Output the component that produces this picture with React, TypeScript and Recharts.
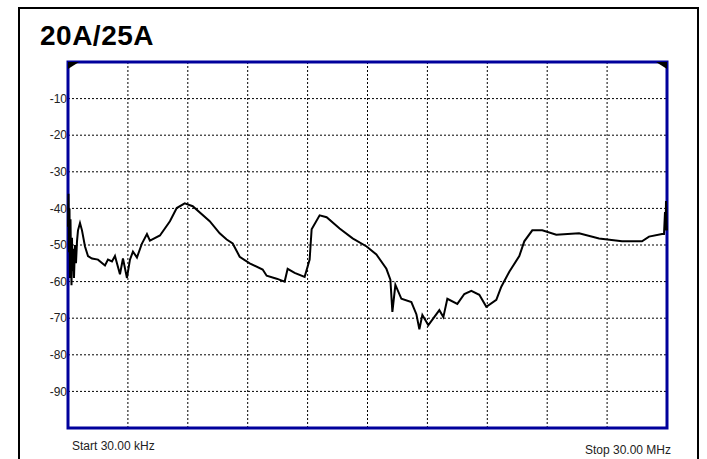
import { LineChart, Line, XAxis, YAxis, CartesianGrid, ReferenceArea, ReferenceDot } from 'recharts';

// frequency in MHz (linear span 30 kHz .. 30 MHz)
const freqMHz = [
  0.03, 0.055, 0.08, 0.105, 0.13, 0.155, 0.18, 0.205, 0.23, 0.255, 0.28, 0.33, 0.38, 0.43, 0.48, 0.53,
  0.63, 0.73, 0.88, 1.03, 1.23, 1.53, 1.88, 2.03, 2.23, 2.38, 2.63, 2.78, 2.98, 3.13, 3.28, 3.48,
  3.73, 3.98, 4.13, 4.63, 5.13, 5.47, 5.87, 6.27, 7.12, 7.62, 7.97, 8.27, 8.62, 9.12, 9.77, 9.97,
  10.47, 10.87, 11.02, 11.37, 11.87, 12.02, 12.12, 12.22, 12.62, 12.97, 13.62, 14.27, 14.97, 15.46,
  15.96, 16.16, 16.26, 16.41, 16.71, 17.21, 17.46, 17.61, 17.76, 18.06, 18.61, 18.81, 19.01, 19.51,
  19.86, 20.21, 20.61, 20.96, 21.46, 21.71, 22.11, 22.61, 22.86, 23.26, 23.76, 24.46, 25.6, 26.6,
  27.75, 28.75, 29.1, 29.75, 29.85, 29.9, 29.93, 29.95, 29.98, 30.0,
];

// trace level in dB
const levelDb = [
  -45, -36, -52, -40, -59, -43, -54, -61, -48, -57, -51, -59, -50, -55, -49, -46,
  -44, -46, -50.4, -53, -53.7, -54, -55.6, -54, -54.5, -53, -58, -53.7, -59, -54, -51.8, -53.4,
  -49.6, -47, -48.8, -47.4, -43.5, -39.9, -38.6, -39.4, -43.5, -46.8, -48.5, -49.6, -53.2, -55, -56.7, -58.4,
  -59.2, -60, -56.5, -57.6, -58.7, -55.9, -54, -45.7, -41.9, -42.4, -45.5, -48.2, -50.4, -52.6,
  -56.5, -59.5, -68.3, -60.9, -64.7, -65.6, -68.9, -73, -69.1, -71.9, -67.8, -69.7, -64.7, -66.1,
  -63.4, -62.5, -63.6, -66.9, -65, -61.4, -57.3, -53, -49, -46, -46, -47.2, -46.8, -48.2,
  -49, -49, -47.7, -47, -47, -41, -46, -38, -45, -46,
];

const yTicks = [-10, -20, -30, -40, -50, -60, -70, -80, -90];
const xGrid = [3.027, 6.024, 9.021, 12.018, 15.015, 18.012, 21.009, 24.006, 27.003];

const startLabel = 'Start 30.00 kHz';
const stopLabel = 'Stop 30.00 MHz';
const title = '20A/25A';

const data = freqMHz.map((f, i) => ({ f, db: levelDb[i] }));

const BLUE = '#00009c';
const FONT = '"Liberation Sans", Arial, sans-serif';

const Corner = ({ cx, cy, side }: { cx?: number; cy?: number; side: 'left' | 'right' }) => {
  if (cx == null || cy == null) return null;
  const d = side === 'left'
    ? `M${cx} ${cy} L${cx + 11} ${cy} L${cx} ${cy + 7} Z`
    : `M${cx} ${cy} L${cx - 11} ${cy} L${cx} ${cy + 7} Z`;
  return <path d={d} fill="#000" />;
};

export default function App() {
  return (
    <div style={{ position: 'relative', width: 707, height: 459, overflow: 'hidden', background: '#fff' }}>
      <style>{`body{margin:0;overflow:hidden}`}</style>
      <div style={{
        position: 'absolute', left: 18, top: 7, width: 677, height: 480,
        border: '2px solid #000', boxSizing: 'content-box',
      }} />
      <div style={{
        position: 'absolute', left: 40, top: 22, fontFamily: FONT,
        fontWeight: 'bold', fontSize: 28, lineHeight: 1, letterSpacing: 0.5, color: '#000',
      }}>
        {title}
      </div>
      <div style={{ position: 'absolute', left: 0, top: 0 }}>
        <LineChart width={707} height={459} data={data} margin={{ top: 62, right: 40, bottom: 31, left: 18 }}>
          <CartesianGrid stroke="#000" strokeDasharray="2 2" strokeWidth={1} />
          <XAxis
            dataKey="f"
            type="number"
            domain={[0.03, 30]}
            ticks={xGrid}
            tick={() => <g />}
            axisLine={false}
            tickLine={false}
            height={0}
          />
          <YAxis
            type="number"
            domain={[-100, 0]}
            ticks={yTicks}
            width={50}
            axisLine={false}
            tickLine={false}
            tickSize={0}
            tickMargin={1}
            tick={{ fill: '#222', fontSize: 12, fontFamily: FONT }}
          />
          <ReferenceArea x1={0.03} x2={30} y1={-100} y2={0} fill="none" stroke={BLUE} strokeWidth={3} ifOverflow="visible" />
          <Line
            dataKey="db"
            type="linear"
            stroke="#000"
            strokeWidth={2}
            dot={false}
            isAnimationActive={false}
          />
          <ReferenceDot x={0.03} y={0} ifOverflow="visible" shape={(p: any) => <Corner {...p} side="left" />} />
          <ReferenceDot x={30} y={0} ifOverflow="visible" shape={(p: any) => <Corner {...p} side="right" />} />
        </LineChart>
      </div>
      <div style={{
        position: 'absolute', left: 72, top: 439, fontFamily: FONT, fontSize: 12, color: '#222',
      }}>
        {startLabel}
      </div>
      <div style={{
        position: 'absolute', right: 36, top: 443, fontFamily: FONT, fontSize: 12, color: '#222',
      }}>
        {stopLabel}
      </div>
    </div>
  );
}
